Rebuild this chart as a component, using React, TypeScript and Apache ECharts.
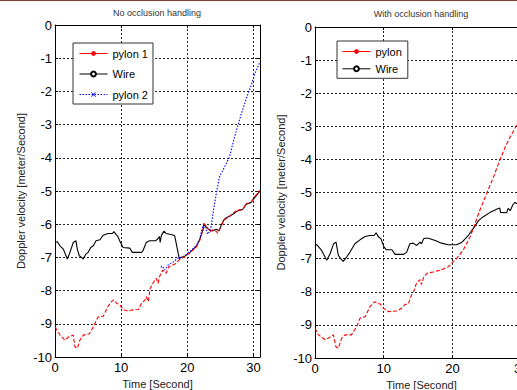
import React, { useEffect, useRef } from 'react';
import * as echarts from 'echarts';

// ---- data (time [s], doppler velocity [m/s]) ----
const pylon1Left: [number, number][] = [
  [0, -9.1], [0.15, -9.14], [0.75, -9.34], [1.5, -9.49], [2.0, -9.4], [2.76, -9.34], [3.0, -9.69], [3.37, -9.74],
  [3.77, -9.49], [4.27, -9.34], [5.2, -9.3], [5.8, -9.09], [6.5, -8.8], [7.3, -8.77], [8.0, -8.48], [8.55, -8.33],
  [8.9, -8.28], [9.3, -8.38], [9.8, -8.43], [10.3, -8.57], [10.9, -8.61], [11.8, -8.58], [12.6, -8.57], [13.1, -8.38],
  [13.6, -8.28], [13.8, -8.18], [14.1, -8.33], [14.4, -7.93], [14.8, -7.78], [15.3, -7.63], [15.6, -7.78], [15.8, -7.58],
  [16.3, -7.38], [16.8, -7.48], [17.2, -7.28], [17.8, -7.23], [18.3, -7.18], [19.0, -7.03], [19.4, -7.0], [20.4, -6.86],
  [21.4, -6.68], [21.9, -6.48], [22.4, -6.17], [22.5, -5.97], [22.9, -6.07], [23.4, -6.22], [23.9, -6.17], [24.4, -6.22],
  [24.6, -6.28], [25.1, -6.07], [25.6, -5.87], [26.4, -5.77], [26.9, -5.67], [27.6, -5.57], [28.4, -5.57], [28.9, -5.37],
  [29.6, -5.37], [30.2, -5.17], [30.8, -5.02], [31, -4.98],
];

const wireLeft: [number, number][] = [
  [0, -6.55], [0.35, -6.53], [0.75, -6.65], [1.26, -6.75], [1.86, -7.05], [2.26, -6.85], [2.76, -6.55], [3.17, -6.5],
  [3.37, -6.75], [3.67, -6.95], [4.02, -7.0], [4.27, -7.05], [4.67, -6.9], [5.0, -6.85], [5.4, -6.7], [5.8, -6.65],
  [6.2, -6.5], [6.8, -6.47], [7.3, -6.33], [8.0, -6.28], [8.7, -6.28], [8.9, -6.22], [9.2, -6.3], [9.5, -6.37],
  [9.9, -6.55], [10.3, -6.7], [11.3, -6.72], [11.7, -6.85], [13.1, -6.85], [13.3, -6.8], [13.8, -6.55], [14.3, -6.5],
  [15.2, -6.5], [15.6, -6.43], [15.8, -6.37], [15.9, -6.55], [16.1, -6.33], [16.5, -6.21], [16.8, -6.28], [17.7, -6.32],
  [18.1, -6.35], [18.3, -6.55], [18.6, -6.85], [18.8, -7.03], [19.1, -7.0], [19.6, -6.97], [20.4, -6.85], [21.4, -6.66],
  [21.9, -6.45], [22.4, -6.15], [22.6, -6.0], [23.0, -6.12], [23.4, -6.18], [23.9, -6.2], [24.4, -6.15], [24.8, -6.2],
  [25.2, -6.0], [25.6, -5.85], [26.4, -5.75], [26.9, -5.7], [27.6, -5.6], [28.4, -5.55], [28.9, -5.4], [29.6, -5.35],
  [30.2, -5.2], [30.8, -5.05], [31, -5.0],
];

const pylon2Left: [number, number][] = [
  [16.0, -7.3], [16.2, -7.26], [16.6, -7.38], [17.1, -7.23], [17.8, -7.15], [18.6, -7.02], [19.4, -6.98], [20.4, -6.83],
  [21.4, -6.63], [21.9, -6.43], [22.4, -6.02], [22.7, -6.1], [23.1, -6.3], [23.4, -6.22], [23.6, -6.07], [23.9, -5.67],
  [24.1, -5.42], [24.4, -5.07], [24.9, -4.55], [25.4, -4.37], [25.9, -4.17], [26.4, -3.97], [26.9, -3.56], [27.6, -3.06],
  [28.2, -2.66], [28.7, -2.36], [29.2, -2.06], [29.7, -1.81], [30.2, -1.46], [30.8, -1.2], [31, -1.1],
];

const wireRight: [number, number][] = [
  [0, -6.55], [0.35, -6.6], [0.97, -6.75], [1.7, -7.05], [2.2, -6.85], [2.7, -6.55], [3.06, -6.5], [3.4, -6.9],
  [3.74, -7.0], [4.1, -7.08], [4.6, -6.95], [5.1, -6.8], [5.8, -6.55], [6.55, -6.43], [7.3, -6.33], [8.0, -6.3],
  [8.6, -6.3], [8.9, -6.22], [9.2, -6.33], [9.6, -6.4], [10.05, -6.65], [10.4, -6.73], [11.2, -6.73], [11.65, -6.87],
  [12.9, -6.87], [13.35, -6.8], [13.8, -6.55], [14.3, -6.53], [14.8, -6.6], [15.3, -6.5], [15.5, -6.55], [15.8, -6.4],
  [16.0, -6.38], [16.5, -6.38], [17.5, -6.45], [18.4, -6.53], [19.4, -6.58], [20.6, -6.58], [21.4, -6.5], [22.3, -6.3],
  [23.1, -6.07], [23.8, -5.85], [24.5, -5.73], [25.5, -5.6], [26.5, -5.5], [26.9, -5.47], [27.0, -5.6], [27.9, -5.61],
  [28.1, -5.48], [28.4, -5.55], [28.8, -5.37], [29.1, -5.3], [29.5, -5.35], [30.2, -5.3], [31, -5.25],
];

const pylonRight: [number, number][] = [
  [0, -9.1], [0.5, -9.3], [1.46, -9.45], [1.94, -9.4], [2.67, -9.3], [3.06, -9.67], [3.4, -9.7], [3.9, -9.4],
  [4.37, -9.3], [5.3, -9.3], [6.07, -9.05], [6.55, -8.8], [7.3, -8.75], [8.0, -8.45], [8.7, -8.3], [9.1, -8.35],
  [9.5, -8.37], [10.0, -8.5], [10.7, -8.6], [11.9, -8.58], [12.6, -8.5], [13.0, -8.4], [13.6, -8.35], [14.1, -8.07],
  [14.4, -7.97], [14.8, -7.72], [15.3, -7.63], [15.5, -7.78], [15.8, -7.57], [16.3, -7.44], [17.2, -7.4], [18.4, -7.34],
  [19.4, -7.24], [20.1, -7.09], [20.6, -7.0], [21.6, -6.73], [22.6, -6.33], [23.3, -5.93], [24.0, -5.53], [25.0, -5.02],
  [26.0, -4.52], [26.9, -4.02], [27.7, -3.62], [28.4, -3.32], [29.4, -2.96], [30.2, -2.6], [31, -2.25],
];

const titles = ['No occlusion handling', 'With occlusion handling'];
const xName = 'Time [Second]';
const yName = 'Doppler velocity [meter/Second]';
const leftLegend = ['pylon 1', 'Wire', 'pylon 2'];
const rightLegend = ['pylon', 'Wire'];

const FONT = '"Liberation Sans", Arial, sans-serif';
const X_SYMBOL = 'path://M0,1L1,0L10,9L9,10ZM9,0L10,1L1,10L0,9Z';

export default function App() {
  const ref = useRef<HTMLDivElement>(null);
  useEffect(() => {
    if (!ref.current) return;
    const chart = echarts.init(ref.current, undefined, { renderer: 'svg' });

    const mainX = (gi: number) => ({
      type: 'value', gridIndex: gi, position: 'bottom', min: 0, max: 31, interval: 10,
      name: xName, nameLocation: 'middle', nameGap: 19,
      nameTextStyle: { fontSize: 11, color: '#222', fontFamily: FONT },
      axisLine: { show: true, onZero: false, lineStyle: { color: '#000', width: 1 } },
      axisTick: { show: true, inside: true, length: 3, lineStyle: { color: '#000' } },
      axisLabel: { fontSize: 13, color: '#000', fontFamily: FONT, margin: 4, showMaxLabel: false },
      splitLine: { show: true, lineStyle: { color: '#222', type: [2, 2], width: 1 } },
    });
    const topX = (gi: number) => ({
      type: 'value', gridIndex: gi, position: 'top', min: 0, max: 31, interval: 10,
      axisLine: { show: true, onZero: false, lineStyle: { color: '#000', width: 1 } },
      axisTick: { show: true, inside: true, length: 3, lineStyle: { color: '#000' } },
      axisLabel: { show: false }, splitLine: { show: false },
    });
    const mainY = (gi: number) => ({
      type: 'value', gridIndex: gi, position: 'left', min: -10, max: 0, interval: 1,
      name: yName, nameLocation: 'middle', nameGap: 29,
      nameTextStyle: { fontSize: 11, color: '#222', fontFamily: FONT },
      axisLine: { show: true, onZero: false, lineStyle: { color: '#000', width: 1 } },
      axisTick: { show: true, inside: true, length: 3, lineStyle: { color: '#000' } },
      axisLabel: { fontSize: 13, color: '#000', fontFamily: FONT, margin: 3 },
      splitLine: { show: true, lineStyle: { color: '#222', type: [2, 2], width: 1 } },
    });
    const rightY = (gi: number) => ({
      type: 'value', gridIndex: gi, position: 'right', min: -10, max: 0, interval: 1,
      axisLine: { show: true, onZero: false, lineStyle: { color: '#000', width: 1 } },
      axisTick: { show: true, inside: true, length: 3, lineStyle: { color: '#000' } },
      axisLabel: { show: false }, splitLine: { show: false },
    });

    const redStyle = { color: '#ff0000', width: 1.1, type: [4, 2] as number[] };
    const blackStyle = { color: '#000', width: 1.1, type: 'solid' };
    const blueStyle = { color: '#0000ff', width: 1.1, type: [1.5, 1.5] as number[] };

    const legendItem = (name: string) =>
      name.startsWith('pylon') && name !== 'pylon 2'
        ? { name, lineStyle: { type: 'solid', width: 1 } }
        : { name, lineStyle: { width: 1 } };

    chart.setOption({
      animation: false,
      backgroundColor: '#fff',
      grid: [
        { left: 55, top: 25, width: 205, height: 332, containLabel: false, outerBoundsMode: 'none' },
        { left: 315, top: 27, width: 213, height: 331, containLabel: false, outerBoundsMode: 'none' },
      ],
      xAxis: [mainX(0), mainX(1), topX(0), topX(1)],
      yAxis: [mainY(0), mainY(1), rightY(0), rightY(1)],
      legend: [
        {
          data: leftLegend.map(legendItem), orient: 'vertical', left: 73, top: 43, selectedMode: false,
          itemWidth: 28, itemHeight: 6, itemGap: 9.5,
          padding: [5, 5, 4, 6], borderColor: '#333', borderWidth: 1, backgroundColor: '#fff',
          textStyle: { fontSize: 11, color: '#000', fontFamily: FONT },
        },
        {
          data: rightLegend.map(legendItem), orient: 'vertical', left: 337, top: 41, selectedMode: false,
          itemWidth: 28, itemHeight: 6, itemGap: 6.3,
          padding: [5, 6, 4, 5], borderColor: '#333', borderWidth: 1, backgroundColor: '#fff',
          textStyle: { fontSize: 11, color: '#000', fontFamily: FONT },
        },
      ],
      graphic: [
        { type: 'rect', left: 0, top: 0, shape: { width: 517, height: 1 }, style: { fill: '#7b3f33' }, silent: true },
        { type: 'text', x: 157, y: 13, style: { text: titles[0], align: 'center', verticalAlign: 'middle', fontSize: 9, fill: '#333', fontFamily: FONT } },
        { type: 'text', x: 421, y: 14, style: { text: titles[1], align: 'center', verticalAlign: 'middle', fontSize: 9, fill: '#333', fontFamily: FONT } },
      ],
      series: [
        { name: 'Wire', type: 'line', xAxisIndex: 0, yAxisIndex: 0, data: wireLeft, showSymbol: false, symbol: 'emptyCircle', lineStyle: blackStyle, itemStyle: { color: '#000' }, z: 2 },
        { name: 'pylon 2', type: 'line', xAxisIndex: 0, yAxisIndex: 0, data: pylon2Left, showSymbol: false, symbol: X_SYMBOL, lineStyle: blueStyle, itemStyle: { color: '#0000ff' }, z: 3 },
        { name: 'pylon 1', type: 'line', xAxisIndex: 0, yAxisIndex: 0, data: pylon1Left, showSymbol: false, symbol: 'circle', lineStyle: redStyle, itemStyle: { color: '#ff0000' }, z: 4 },
        { name: 'Wire', type: 'line', xAxisIndex: 1, yAxisIndex: 1, data: wireRight, showSymbol: false, symbol: 'emptyCircle', lineStyle: blackStyle, itemStyle: { color: '#000' }, z: 2 },
        { name: 'pylon', type: 'line', xAxisIndex: 1, yAxisIndex: 1, data: pylonRight, showSymbol: false, symbol: 'circle', lineStyle: redStyle, itemStyle: { color: '#ff0000' }, z: 4 },
      ],
    });
    return () => chart.dispose();
  }, []);
  return <div ref={ref} style={{ position: 'absolute', left: 0, top: 0, width: 517, height: 390, overflow: 'hidden' }} />;
}
